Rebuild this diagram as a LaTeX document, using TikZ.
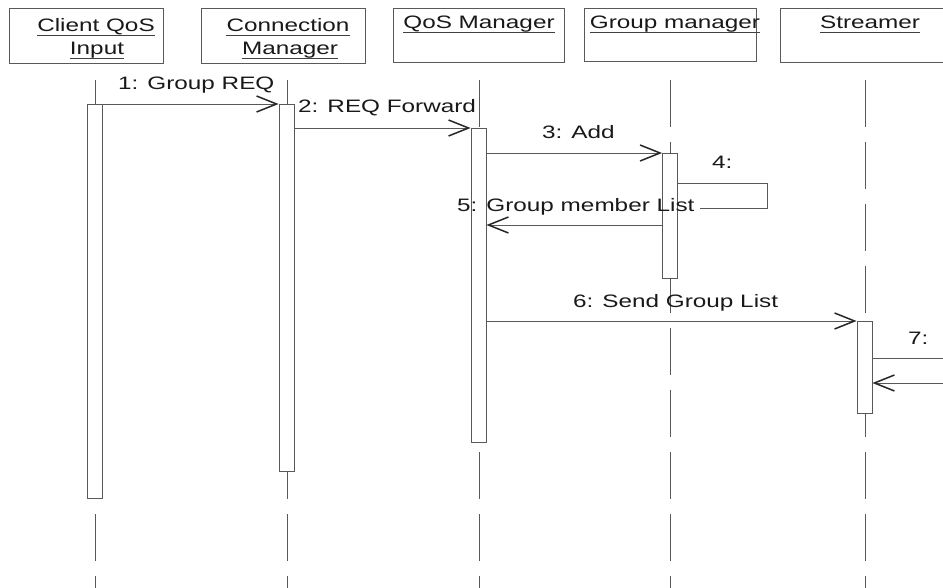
\documentclass[tikz,border=0pt]{standalone}
\usepackage{fontspec}
\newfontfamily\umlfont{Liberation Sans}[FakeStretch=1.35]
\usetikzlibrary{arrows.meta}

\begin{document}
\begin{tikzpicture}[x=1pt,y=-1pt,
  ink/.style={draw=black!65, line width=0.8pt},
  headbox/.style={ink, fill=white, anchor=north west, inner sep=0pt},
  actbox/.style={ink, fill=white, anchor=north, minimum width=15pt, inner sep=0pt},
  lifeline/.style={ink, dash pattern=on 47pt off 15pt},
  msg/.style={ink, -{Straight Barb[length=20pt,width=16pt,line width=1.5pt,black!85]}},
  plain/.style={ink},
  txt/.style={font=\umlfont\fontsize{18}{20}\selectfont, inner sep=0pt, text=black!90},
  title/.style={txt, anchor=base},
  msglabel/.style={txt, anchor=base west}
]
\clip (0,0) rectangle (943,588);
\fill[white] (0,0) rectangle (943,588);

% object boxes along the top
\node[headbox, minimum width=154pt, minimum height=55pt] (h1) at (9,8) {};
\node[headbox, minimum width=164pt, minimum height=55pt] (h2) at (201,8) {};
\node[headbox, minimum width=171pt, minimum height=54pt] (h3) at (393,8) {};
\node[headbox, minimum width=172pt, minimum height=53pt] (h4) at (584,8) {};
\node[headbox, minimum width=180pt, minimum height=54pt] (h5) at (780,8) {};

% underlined object names
\newcommand\underrule[1]{\draw[black!75, line width=0.8pt] ([yshift=-3pt]#1.base west) -- ([yshift=-3pt]#1.base east);}
\node[title] (n1a) at (96,32) {Client QoS};
\node[title] (n1b) at (97,55) {Input};
\node[title] (n2a) at (288,32) {Connection};
\node[title] (n2b) at (290,55) {Manager};
\node[title] (n3) at (479,29) {QoS Manager};
\node[title] (n4) at (675,29) {Group manager};
\node[title] (n5) at (870,29) {Streamer};
\foreach \n in {n1a,n1b,n2a,n2b,n3,n4,n5} {\underrule{\n}}

% lifelines
\coordinate (l1top) at (95,80);   \coordinate (l1bot) at (95,588);
\coordinate (l2top) at (287,80);  \coordinate (l2bot) at (287,588);
\coordinate (l3top) at (479,80);  \coordinate (l3bot) at (479,588);
\coordinate (l4top) at (670,80);  \coordinate (l4bot) at (670,588);
\coordinate (l5top) at (865,80);  \coordinate (l5bot) at (865,588);
\foreach \i in {1,...,5} {\draw[lifeline] (l\i top) -- (l\i bot);}

% activation bars
\node[actbox, minimum height=394pt] (a1) at (94.5,104) {};
\node[actbox, minimum height=367pt] (a2) at (286.5,104) {};
\node[actbox, minimum height=314pt] (a3) at (478.5,128) {};
\node[actbox, minimum height=125pt] (a4) at (670,153) {};
\node[actbox, minimum height=92pt] (a5) at (864.5,321) {};

% message heights
\coordinate (m1) at (0,104);
\coordinate (m2) at (0,128);
\coordinate (m3) at (0,153);
\coordinate (m4) at (0,183);
\coordinate (m5) at (0,225);
\coordinate (m6) at (0,321);
\coordinate (m7a) at (0,358);
\coordinate (m7b) at (0,383);

% messages
\draw[msg] (a1.east |- m1) -- (a2.west |- m1);
\draw[msg] (a2.east |- m2) -- (a3.west |- m2);
\draw[msg] (a3.east |- m3) -- (a4.west |- m3);
\coordinate (s4a) at (767,183);
\coordinate (s4b) at (767,208);
\coordinate (s4c) at (700,208);
\draw[plain] (a4.east |- m4) -- (s4a) -- (s4b) -- (s4c);
\draw[msg] (a4.west |- m5) -- (a3.east |- m5);
\draw[msg] (a3.east |- m6) -- (a5.west |- m6);
\coordinate (out7) at (950,358);
\coordinate (in7) at (950,383);
\draw[plain] (a5.east |- m7a) -- (out7);
\draw[msg] (in7) -- (a5.east |- m7b);

% message labels
\node[msglabel] (t1) at (118,90) {1: Group REQ};
\node[msglabel] (t2) at (298,113) {2: REQ Forward};
\node[msglabel] (t3) at (542,139) {3: Add};
\node[msglabel] (t4) at (712,169) {4:};
\node[msglabel] (t5) at (457,212) {5: Group member List};
\node[msglabel] (t6) at (573,308) {6: Send Group List};
\node[msglabel] (t7) at (908,344) {7:};
\end{tikzpicture}
\end{document}
